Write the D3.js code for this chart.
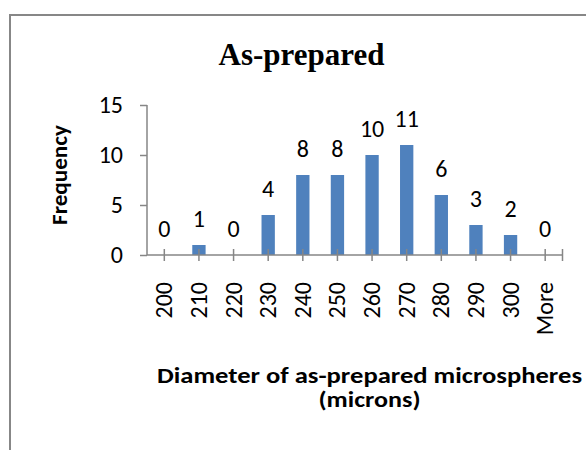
<!DOCTYPE html>
<html>
<head>
<meta charset="utf-8">
<script src="https://cdn.jsdelivr.net/npm/d3@7"></script>
<style>
  html, body { margin: 0; padding: 0; background: #fff; }
  svg { display: block; }
</style>
</head>
<body>
<script>
const categories = ["200","210","220","230","240","250","260","270","280","290","300","More"];
const frequency  = [0, 1, 0, 4, 8, 8, 10, 11, 6, 3, 2, 0];
const yTicks = [0, 5, 10, 15];
const chartTitle = "As-prepared";
const yTitle = "Frequency";
const xTitleLines = ["Diameter of as-prepared microspheres", "(microns)"];

const W = 586, H = 450;
const svg = d3.select("body").append("svg").attr("width", W).attr("height", H);

// outer frame (cropped)
svg.append("path")
  .attr("d", `M10,${H+2} L10,15 L${W+2},15`)
  .attr("fill", "none").attr("stroke", "#878787").attr("stroke-width", 2);

const x = d3.scaleBand().domain(categories).range([147, 562.5]).padding(0);
const y = d3.scaleLinear().domain([0, 15]).range([255, 105]);
const axisColor = "#868686";
const sans = "Carlito, Lato, 'Open Sans', sans-serif";
const numSize = 24;

// title
svg.append("text")
  .attr("x", 301.5).attr("y", 65)
  .attr("text-anchor", "middle")
  .attr("font-family", "'Liberation Serif', 'Times New Roman', serif")
  .attr("font-weight", "bold").attr("font-size", 31)
  .text(chartTitle);

// bars
const barW = x.bandwidth() * 0.385;
svg.selectAll("rect.bar").data(frequency).join("rect")
  .attr("class", "bar")
  .attr("x", (d, i) => x(categories[i]) + x.bandwidth()/2 - barW/2)
  .attr("y", d => y(d))
  .attr("width", barW)
  .attr("height", d => y(0) - y(d))
  .attr("fill", "#4F81BD");

// y axis
const yAxis = d3.axisLeft(y).tickValues(yTicks).tickSize(7).tickPadding(17);
const gy = svg.append("g").attr("transform", "translate(147,0)").call(yAxis);
gy.select(".domain").attr("stroke", axisColor).attr("stroke-width", 1.5).attr("d", `M0,${y(15)}V${y(0)}`);
gy.selectAll(".tick line").attr("stroke", axisColor).attr("stroke-width", 1.5);
gy.selectAll(".tick text").attr("font-family", sans).attr("font-size", numSize).attr("fill", "#000")
  .attr("dy", "0.3em");

// x axis
const gx = svg.append("g").attr("transform", `translate(0,${y(0)})`);
gx.append("line").attr("x1", 147).attr("x2", 562.5).attr("stroke", axisColor).attr("stroke-width", 1.5);
const tickXs = categories.map(c => x(c) + x.bandwidth()/2).concat([x.range()[1]]);
gx.selectAll("line.tk").data(tickXs).join("line")
  .attr("class", "tk")
  .attr("x1", d => d).attr("x2", d => d)
  .attr("y1", -6).attr("y2", 6)
  .attr("stroke", axisColor).attr("stroke-width", 1.5);
gx.selectAll("text.xl").data(categories).join("text")
  .attr("class", "xl")
  .attr("transform", d => `translate(${x(d) + x.bandwidth()/2 + 8},27) rotate(-90)`)
  .attr("text-anchor", "end")
  .attr("font-family", sans).attr("font-size", numSize)
  .text(d => d);

// data labels
svg.selectAll("text.dl").data(frequency).join("text")
  .attr("class", "dl")
  .attr("x", (d, i) => x(categories[i]) + x.bandwidth()/2)
  .attr("y", d => y(d) - 18)
  .attr("text-anchor", "middle")
  .attr("font-family", sans).attr("font-size", numSize)
  .text(d => d);

// y title
svg.append("text")
  .attr("transform", "translate(67,175) rotate(-90)")
  .attr("text-anchor", "middle")
  .attr("font-family", sans).attr("font-weight", "bold").attr("font-size", 23)
  .attr("textLength", 100).attr("lengthAdjust", "spacingAndGlyphs")
  .text(yTitle);

// x title
const xtLen = [425, 102];
svg.selectAll("text.xt").data(xTitleLines).join("text")
  .attr("class", "xt")
  .attr("x", 369.5)
  .attr("y", (d, i) => 383 + i * 24)
  .attr("text-anchor", "middle")
  .attr("font-family", sans).attr("font-weight", "bold").attr("font-size", 23)
  .attr("textLength", (d, i) => xtLen[i]).attr("lengthAdjust", "spacingAndGlyphs")
  .text(d => d);
</script>
</body>
</html>
